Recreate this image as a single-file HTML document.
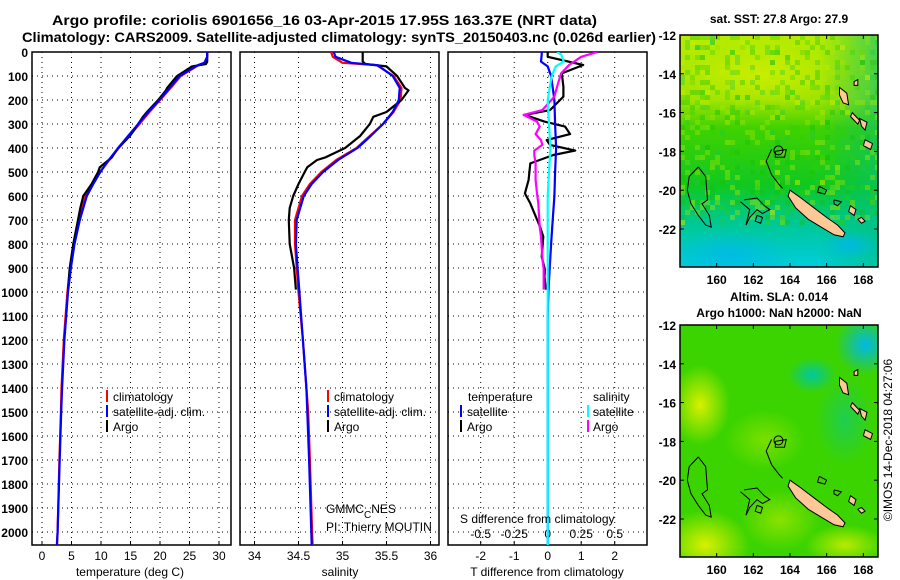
<!DOCTYPE html>
<html><head><meta charset="utf-8"><style>
body{margin:0;background:#fff;}
svg{display:block;font-family:"Liberation Sans",sans-serif;}
text{font-size:12px;fill:#000;}
.b{font-weight:bold;}
</style></head><body>
<svg id="fig" width="900" height="580" viewBox="0 0 900 580" xmlns="http://www.w3.org/2000/svg">
<defs>
<clipPath id="c1"><rect x="32" y="52" width="199" height="493"/></clipPath>
<clipPath id="c2"><rect x="240" y="52" width="199" height="493"/></clipPath>
<clipPath id="c3"><rect x="448" y="52" width="199" height="493"/></clipPath>
<clipPath id="m1"><rect x="680" y="35" width="198" height="232"/></clipPath>
<clipPath id="m2"><rect x="680" y="325" width="198" height="232"/></clipPath>
<linearGradient id="sstg" x1="0" y1="0" x2="0" y2="1">
<stop offset="0" stop-color="#b8ec00"/><stop offset="0.28" stop-color="#a0e400"/><stop offset="0.4" stop-color="#40d200"/>
<stop offset="0.65" stop-color="#10c820"/><stop offset="0.8" stop-color="#00c890"/><stop offset="1" stop-color="#00ccdd"/></linearGradient>
<linearGradient id="sstr" x1="0" y1="0" x2="1" y2="0">
<stop offset="0" stop-color="#00c060" stop-opacity="0"/><stop offset="0.7" stop-color="#00c060" stop-opacity="0"/><stop offset="1" stop-color="#00c080" stop-opacity="0.6"/></linearGradient>
<radialGradient id="ylw"><stop offset="0" stop-color="#d8f000"/><stop offset="1" stop-color="#d8f000" stop-opacity="0"/></radialGradient>
<radialGradient id="cyn"><stop offset="0" stop-color="#00b8e8"/><stop offset="1" stop-color="#00b8e8" stop-opacity="0"/></radialGradient>
<radialGradient id="tel"><stop offset="0" stop-color="#00c8a0"/><stop offset="1" stop-color="#00c8a0" stop-opacity="0"/></radialGradient>
</defs>

<text class="b" x="52" y="25" style="font-size:14px" textLength="545" lengthAdjust="spacingAndGlyphs">Argo profile: coriolis 6901656_16 03-Apr-2015 17.95S 163.37E (NRT data)</text>
<text class="b" x="22" y="42" style="font-size:14px" textLength="634" lengthAdjust="spacingAndGlyphs">Climatology: CARS2009. Satellite-adjusted climatology: synTS_20150403.nc (0.026d earlier)</text>

<g id="p1"></g>
<g id="p2"></g>
<g id="p3"></g>

<g>
<rect x="106" y="390" width="2" height="12" fill="#f00"/><text x="113" y="401">climatology</text>
<rect x="106" y="405" width="2" height="12" fill="#00f"/><text x="113" y="416">satellite-adj. clim.</text>
<rect x="106" y="420" width="2" height="12" fill="#000"/><text x="113" y="431">Argo</text>
</g>
<g>
<rect x="327" y="390" width="2" height="12" fill="#f00"/><text x="334" y="401">climatology</text>
<rect x="327" y="405" width="2" height="12" fill="#00f"/><text x="334" y="416">satellite-adj. clim.</text>
<rect x="327" y="420" width="2" height="12" fill="#000"/><text x="334" y="431">Argo</text>
</g>
<g>
<text x="468" y="401">temperature</text><text x="593" y="401">salinity</text>
<rect x="460" y="405" width="2" height="12" fill="#00f"/><text x="467" y="416">satellite</text>
<rect x="460" y="420" width="2" height="12" fill="#000"/><text x="467" y="431">Argo</text>
<rect x="587" y="405" width="2" height="12" fill="#0ff"/><text x="593" y="416">satellite</text>
<rect x="587" y="420" width="2" height="12" fill="#f0f"/><text x="593" y="431">Argo</text>
</g>
<g style="font-size:12px">
<text x="326" y="513">GMMC<tspan dy="5" style="font-size:10px">C</tspan><tspan dy="-5">NES</tspan></text>
<text x="326" y="531">PI: Thierry MOUTIN</text>
</g>
<text x="460" y="523">S difference from climatology</text>

<text x="130" y="576" text-anchor="middle">temperature (deg C)</text>
<text x="340" y="576" text-anchor="middle">salinity</text>
<text x="547" y="576" text-anchor="middle">T difference from climatology</text>

<!-- maps -->
<text x="779" y="23" text-anchor="middle" class="b">sat. SST: 27.8 Argo: 27.9</text>
<g clip-path="url(#m1)">
<rect x="680" y="35" width="198" height="232" fill="url(#sstg)"/>
<rect x="680" y="35" width="198" height="232" fill="url(#sstr)"/>
<ellipse cx="760" cy="75" rx="80" ry="30" fill="url(#ylw)" opacity="0.7"/>
<ellipse cx="730" cy="255" rx="60" ry="25" fill="url(#cyn)" opacity="0.8"/>
<ellipse cx="850" cy="245" rx="30" ry="15" fill="url(#cyn)" opacity="0.9"/>
<g id="sstnoise"></g>
</g>
<g clip-path="url(#m2)">
<rect x="680" y="325" width="198" height="232" fill="#3cd400"/>
<ellipse cx="700" cy="405" rx="30" ry="40" fill="url(#ylw)"/>
<ellipse cx="705" cy="545" rx="45" ry="35" fill="url(#ylw)"/>
<ellipse cx="845" cy="545" rx="40" ry="20" fill="url(#ylw)" opacity="0.8"/>
<ellipse cx="780" cy="520" rx="40" ry="30" fill="url(#ylw)" opacity="0.5"/>
<ellipse cx="765" cy="440" rx="40" ry="30" fill="url(#ylw)" opacity="0.4"/>
<ellipse cx="865" cy="345" rx="30" ry="30" fill="url(#cyn)"/>
<ellipse cx="812" cy="375" rx="25" ry="18" fill="url(#tel)"/>
<ellipse cx="845" cy="420" rx="30" ry="45" fill="url(#tel)" opacity="0.5"/>
</g>
<g id="coast1" clip-path="url(#m1)"></g><g id="coast2" clip-path="url(#m2)"></g>
<g id="maxes"></g>
<text x="779" y="301" text-anchor="middle" class="b">Altim. SLA: 0.014</text>
<text x="779" y="317" text-anchor="middle" class="b">Argo h1000: NaN h2000: NaN</text>
<text transform="translate(892,440) rotate(-90)" text-anchor="middle">©IMOS 14-Dec-2018 04:27:06</text>
</svg>
<script>
// ---------- data ----------
const depthTicks=[0,100,200,300,400,500,600,700,800,900,1000,1100,1200,1300,1400,1500,1600,1700,1800,1900,2000];
const tempTicks=[0,5,10,15,20,25,30];
const salTicks=[34,34.5,35,35.5,36];
const salTickLabels=["34","34.5","35","35.5","36"];
const tdiffTicks=[-2,-1,0,1,2];
const sdiffTicks=[-0.5,-0.25,0,0.25,0.5];
const sdiffTickLabels=["-0.5","-0.25","0","0.25","0.5"];

const climDepth=[0,20,45,55,100,150,200,250,300,350,400,450,500,550,600,700,800,900,1000,1200,1400,1500,1700,2000,2055];
const climTemp=[28.0,28.0,27.6,26.5,23.5,21.8,20.0,18.2,16.5,14.8,13.0,11.4,9.8,8.5,7.4,6.2,5.4,4.8,4.3,3.7,3.3,3.2,2.95,2.65,2.5];
const satTemp=[28.0,28.0,27.5,26.4,23.3,21.6,19.9,18.0,16.3,14.6,12.9,11.3,9.9,8.7,7.6,6.4,5.5,4.9,4.4,3.8,3.4,3.25,3.0,2.65,2.55];
const climSal=[34.87,34.89,35.0,35.39,35.58,35.67,35.66,35.58,35.46,35.31,35.16,34.93,34.76,34.63,34.54,34.46,34.46,34.48,34.5,34.55,34.59,34.61,34.63,34.655,34.66];
const satSal=[34.9,34.92,35.1,35.4,35.57,35.65,35.64,35.57,35.46,35.32,35.17,34.95,34.78,34.65,34.56,34.48,34.47,34.49,34.51,34.55,34.59,34.6,34.62,34.645,34.65];

const argoDepth=[0,10,40,50,60,100,150,160,200,250,270,300,350,400,440,450,480,500,550,600,650,700,800,900,990];
const argoTemp=[28.0,28.0,28.0,27.8,25.4,22.9,21.2,21.0,19.7,17.8,17.1,16.3,14.9,12.9,11.8,11.3,9.8,9.5,8.4,7.0,6.5,6.1,5.3,4.7,4.4];
const argoSal=[35.23,35.23,35.23,35.26,35.5,35.62,35.71,35.75,35.67,35.5,35.35,35.31,35.2,35.03,34.8,34.71,34.6,34.57,34.5,34.44,34.4,34.39,34.4,34.45,34.47];

const diffDepth=[0,20,54,89,144,186,242,262,290,311,342,367,387,411,429,464,533,589,631,728,769,853,908,936,990];
const argoTdiff=[0.0,0.0,1.06,0.42,0.47,0.47,0.07,-0.68,-0.1,0.52,0.67,-0.03,0.07,0.82,0.17,-0.52,-0.57,-0.68,-0.52,-0.23,-0.13,-0.18,-0.08,-0.1,-0.05];
const argoSdiff=[0.37,0.25,0.16,0.1,0.07,0.05,-0.04,-0.18,-0.08,-0.06,-0.09,-0.05,-0.04,-0.1,-0.1,-0.09,-0.09,-0.08,-0.07,-0.06,-0.05,-0.04,-0.03,-0.03,-0.03];
const satDiffDepth=[0,10,40,60,100,200,300,400,500,600,700,800,900,1000,1100,2055];
const satTdiff=[-0.18,-0.18,-0.2,0.0,0.1,0.2,0.22,0.25,0.22,0.2,0.15,0.1,0.06,0.02,0.0,0.0];
const satSdiff=[0.07,0.1,0.12,0.06,0.03,0.0,0.01,0.02,0.01,0.0,0.0,0.0,0.0,0.0,0.0,0.0];

// ---------- axes ----------
const NS='http://www.w3.org/2000/svg';
function mk(tag,attrs,parent){const e=document.createElementNS(NS,tag);for(const k in attrs)e.setAttribute(k,attrs[k]);parent.appendChild(e);return e;}
const yD=d=>52+d*0.24;
const xT=t=>42+t*5.9;
const xS=s=>254.5+(s-34)*88;
const xTd=t=>547.7+t*33.5;
const xSd=s=>547.7+s*134;

function panel(g,x0,clip,xTicksV,xFn,labels){
  for(const d of depthTicks){
    const l=mk('line',{x1:x0,x2:x0+199,y1:yD(d),y2:yD(d),stroke:'#000','stroke-dasharray':'1,4','stroke-width':1},g);
    
    
  }
  xTicksV.forEach((v,i)=>{
    const x=xFn(v);
    const l=mk('line',{x1:x,x2:x,y1:52,y2:545,stroke:'#000','stroke-dasharray':'1,4'},g);
    
    
    mk('line',{x1:x,x2:x,y1:545,y2:541,stroke:'#000'},g);
    const t=mk('text',{x:x,y:560,'text-anchor':'middle'},g);t.textContent=labels[i];
    
    
  });
  const r=mk('rect',{x:x0,y:52,width:199,height:493,fill:'none',stroke:'#000','stroke-width':1.5},g);
  
  
}
function line(g,clip,xs,ys,xFn,color,name){
  const pts=xs.map((v,i)=>xFn(v).toFixed(1)+','+yD(ys[i]).toFixed(1)).join(' ');
  const p=mk('polyline',{points:pts,fill:'none',stroke:color,'stroke-width':2.2,'clip-path':'url(#'+clip+')','stroke-linejoin':'round'},g);
  
  
}
const p1=document.getElementById('p1'),p2=document.getElementById('p2'),p3=document.getElementById('p3');
panel(p1,32,'c1',tempTicks,xT,tempTicks.map(String));
panel(p2,240,'c2',salTicks,xS,salTickLabels);
panel(p3,448,'c3',tdiffTicks,xTd,tdiffTicks.map(String));
for(const d of depthTicks){
  const t=mk('text',{x:28,y:yD(d)+5,'text-anchor':'end',class:'b'},p1);t.textContent=d;
  
  
}
sdiffTicks.forEach((v,i)=>{
  const t=mk('text',{x:xSd(v),y:538,'text-anchor':'middle'},p3);t.textContent=sdiffTickLabels[i];
  
  
});
line(p1,'c1',climTemp,climDepth,xT,'#f00','temp-climatology-line');
line(p1,'c1',argoTemp,argoDepth,xT,'#000','temp-argo-line');
line(p1,'c1',satTemp,climDepth,xT,'#00f','temp-satellite-line');
line(p2,'c2',climSal,climDepth,xS,'#f00','salinity-climatology-line');
line(p2,'c2',argoSal,argoDepth,xS,'#000','salinity-argo-line');
line(p2,'c2',satSal,climDepth,xS,'#00f','salinity-satellite-line');
line(p3,'c3',argoTdiff,diffDepth,xTd,'#000','tdiff-argo-line');
line(p3,'c3',satTdiff,satDiffDepth,xTd,'#00f','tdiff-satellite-line');
line(p3,'c3',argoSdiff,diffDepth,xSd,'#f0f','sdiff-argo-line');
line(p3,'c3',satSdiff,satDiffDepth,xSd,'#0ff','sdiff-satellite-line');

// ---------- maps ----------
const lonX=l=>680+(l-158.0)*18.33;
const latY=(la,top)=>top+(-12-la)*19.4;
const mapTops=[35,325];
const lonTicks=[160,162,164,166,168];
const latTicks=[-12,-14,-16,-18,-20,-22];
const ax=document.getElementById('maxes');
mapTops.forEach((top,mi)=>{
  const f=mk('rect',{x:680,y:top,width:198,height:232,fill:'none',stroke:'#000','stroke-width':1.5},ax);
  
  
  for(const lo of lonTicks){
    const x=lonX(lo);
    mk('line',{x1:x,x2:x,y1:top,y2:top+4,stroke:'#000'},ax);
    mk('line',{x1:x,x2:x,y1:top+232,y2:top+228,stroke:'#000'},ax);
    const t=mk('text',{x:x,y:top+249,'text-anchor':'middle',class:'b'},ax);t.textContent=lo;
    
    
  }
  for(const la of latTicks){
    const y=latY(la,top);
    mk('line',{x1:878,x2:874,y1:y,y2:y,stroke:'#000'},ax);
    mk('line',{x1:680,x2:684,y1:y,y2:y,stroke:'#000'},ax);
    const t=mk('text',{x:676,y:y+5,'text-anchor':'end',class:'b'},ax);t.textContent=la;
    
    
  }
});
// deterministic pixel texture for SST map
const sn=document.getElementById('sstnoise');
const noiseCols=['#30d000','#b0e800','#10c000','#c8ee00','#20c840'];
let seed=7;
for(let i=0;i<700;i++){
  seed=(seed*9301+49297)%233280;const a=seed/233280;
  seed=(seed*9301+49297)%233280;const b=seed/233280;
  seed=(seed*9301+49297)%233280;const c=seed/233280;
  const yy=35+b*190;
  mk('rect',{x:(680+Math.floor(a*40)*5),y:(35+Math.floor(b*38)*5),width:5,height:5,fill:noiseCols[Math.floor(c*5)],opacity:0.35},sn);
}
// coastline / islands
const ncal=[[164.0,-20.0],[164.6,-20.4],[165.3,-20.9],[166.0,-21.4],[166.6,-21.8],[167.0,-22.2],[166.9,-22.4],[166.4,-22.3],[165.7,-21.9],[165.0,-21.5],[164.3,-20.9],[163.9,-20.3]];
const vanu=[[[166.7,-14.7],[167.1,-15.0],[167.2,-15.6],[166.9,-15.5],[166.7,-15.1]],[[167.4,-16.0],[167.8,-16.4],[167.7,-16.6],[167.3,-16.2]],[[168.1,-17.4],[168.5,-17.6],[168.4,-17.9],[168.0,-17.7]],[[167.8,-16.3],[168.2,-16.5],[168.1,-16.9],[167.9,-16.7]],[[167.3,-20.8],[167.6,-21.0],[167.5,-21.3],[167.2,-21.1]],[[167.9,-21.4],[168.1,-21.6],[167.9,-21.7],[167.7,-21.5]],[[167.5,-14.4],[167.7,-14.3],[167.7,-14.6],[167.5,-14.6]]];
const contours=[
 [[159.0,-18.8],[159.4,-19.3],[159.5,-20.5],[159.2,-20.7],[159.6,-21.3],[159.7,-21.9],[159.4,-21.8],[159.0,-21.3],[158.6,-20.7],[158.4,-20.0],[158.5,-19.3],[159.0,-18.8]],
 [[161.5,-20.5],[162.2,-20.4],[162.6,-20.8],[162.9,-21.0],[162.5,-21.2],[162.2,-21.0],[161.8,-21.4],[161.6,-21.8],[161.8,-21.0],[161.3,-20.6]],
 [[163.2,-18.0],[163.8,-17.9],[163.7,-18.3],[163.2,-18.3],[163.2,-18.0]],
 [[163.0,-17.9],[162.7,-18.5],[163.0,-19.2],[163.4,-19.7],[163.6,-19.9]],
 [[162.2,-21.3],[162.5,-21.4],[162.4,-21.7],[162.1,-21.6],[162.2,-21.3]],
 [[165.6,-19.8],[166.0,-20.0],[165.9,-20.2],[165.5,-20.1],[165.6,-19.8]],
 [[166.4,-20.5],[166.8,-20.6],[166.6,-20.8],[166.4,-20.7],[166.4,-20.5]]];
[['coast1',35],['coast2',325]].forEach(([id,top])=>{
  const g=document.getElementById(id);
  const P=arr=>arr.map(p=>lonX(p[0]).toFixed(1)+','+latY(p[1],top).toFixed(1)).join(' ');
  const n=mk('polygon',{points:P(ncal),fill:'#ffc896',stroke:'#000','stroke-width':1},g);
  
  
  for(const v of vanu){const q=mk('polygon',{points:P(v),fill:'#ffc896',stroke:'#000','stroke-width':1},g);
    
    }
  for(const c of contours){const q=mk('polyline',{points:P(c),fill:'none',stroke:'#000','stroke-width':1},g);
    
    }
  const cc=mk('circle',{cx:lonX(163.37),cy:latY(-17.95,top),r:4.5,fill:'none',stroke:'#000'},g);
  
  
});
</script>
</body></html>
